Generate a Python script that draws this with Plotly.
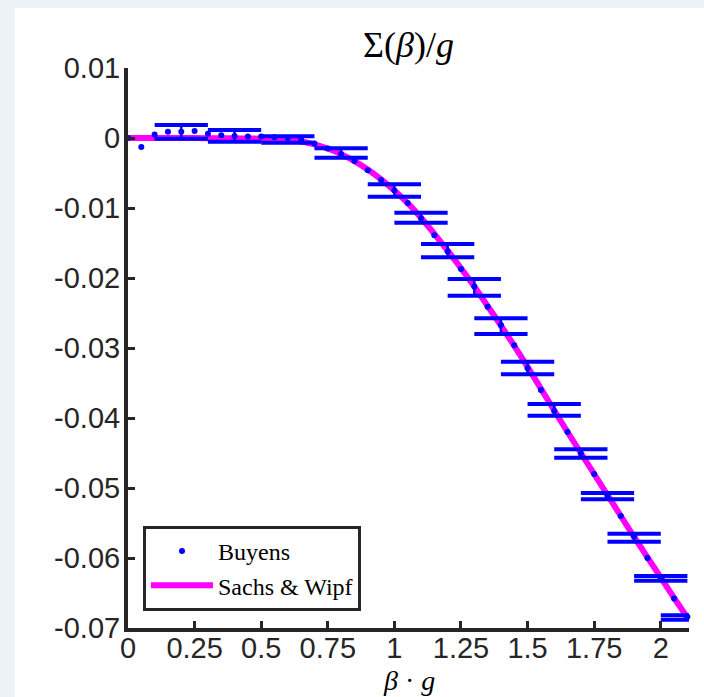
import plotly.graph_objects as go

# ---- data -------------------------------------------------------------
# Buyens: self-energy Sigma(beta)/g sampled every 0.05 in beta*g
buyens_beta = [0.00, 0.05, 0.10, 0.15, 0.20, 0.25, 0.30, 0.35, 0.40, 0.45,
               0.50, 0.55, 0.60, 0.65, 0.70, 0.75, 0.80, 0.85, 0.90, 0.95,
               1.00, 1.05, 1.10, 1.15, 1.20, 1.25, 1.30, 1.35, 1.40, 1.45,
               1.50, 1.55, 1.60, 1.65, 1.70, 1.75, 1.80, 1.85, 1.90, 1.95,
               2.00, 2.05, 2.10]
buyens_sigma = [0.0000, -0.0013, 0.0005, 0.0009, 0.0009, 0.0010, 0.0006, 0.0004,
                0.0003, 0.0002, 0.0002, 0.0001, 0.0000, -0.0002, -0.0008, -0.0015,
                -0.0023, -0.0033, -0.0046, -0.0060, -0.0075, -0.0093, -0.0115,
                -0.0139, -0.0162, -0.0187, -0.0212, -0.0241, -0.0267, -0.0296,
                -0.0329, -0.0360, -0.0390, -0.0420, -0.0451, -0.0480, -0.0511,
                -0.0540, -0.0569, -0.0600, -0.0629, -0.0658, -0.0684]

# Sachs & Wipf: analytic curve
sw_beta = [0.00, 0.10, 0.20, 0.30, 0.40, 0.50, 0.55, 0.60, 0.65, 0.70,
           0.75, 0.80, 0.85, 0.90, 0.95, 1.00, 1.05, 1.10, 1.15, 1.20,
           1.25, 1.30, 1.35, 1.40, 1.45, 1.50, 1.55, 1.60, 1.65, 1.70,
           1.75, 1.80, 1.85, 1.90, 1.95, 2.00, 2.05, 2.10]
sw_sigma = [0.0000, 0.0000, 0.0000, -0.00002, -0.00005, -0.0001, -0.0002,
            -0.0003, -0.0005, -0.0009, -0.0015, -0.0023, -0.0033, -0.0045,
            -0.0059, -0.0075, -0.0093, -0.0114, -0.0137, -0.0161, -0.0186,
            -0.0212, -0.0240, -0.0268, -0.0297, -0.0327, -0.0358, -0.0389,
            -0.0420, -0.0450, -0.0480, -0.0510, -0.0540, -0.0570, -0.0599,
            -0.0628, -0.0657, -0.0685]

# Monte-Carlo bins: centre, mean, error and bin half-width
mc_beta = [0.2, 0.4, 0.6, 0.8, 1.0, 1.1, 1.2, 1.3, 1.4, 1.5, 1.6, 1.7,
           1.8, 1.9, 2.0, 2.1]
mc_mean = [0.00088, 0.00030, -0.00022, -0.00214, -0.00750, -0.01139,
           -0.01609, -0.02134, -0.02688, -0.03286, -0.03884, -0.04507,
           -0.05116, -0.05710, -0.06290, -0.06850]
mc_err = [0.00098, 0.00084, 0.00046, 0.00067, 0.00089, 0.00072, 0.00095,
          0.00120, 0.00112, 0.00090, 0.00084, 0.00060, 0.00045, 0.00057,
          0.00034, 0.00031]
mc_half = 0.1

x_tickvals = [0, 0.25, 0.5, 0.75, 1, 1.25, 1.5, 1.75, 2]
x_ticktext = ["0", "0.25", "0.5", "0.75", "1", "1.25", "1.5", "1.75", "2"]
y_tickvals = [0.01, 0, -0.01, -0.02, -0.03, -0.04, -0.05, -0.06, -0.07]
y_ticktext = ["0.01", "0", "-0.01", "-0.02", "-0.03", "-0.04", "-0.05",
              "-0.06", "-0.07"]

# ---- styling ----------------------------------------------------------
BLUE = "#0000ff"
MAGENTA = "#ff00ff"
INK = "#262626"
SANS = "Liberation Sans, Arial, sans-serif"
SERIF = "Liberation Serif, Times New Roman, serif"

# caps and stems of the binned error bars
cap_x, cap_y, stem_x, stem_y = [], [], [], []
for c, m, e in zip(mc_beta, mc_mean, mc_err):
    cap_x += [c - mc_half, c + mc_half, None, c - mc_half, c + mc_half, None]
    cap_y += [m + e, m + e, None, m - e, m - e, None]
    stem_x += [c, c, None]
    stem_y += [m + e, m - e, None]

fig = go.Figure()
fig.add_trace(go.Scatter(
    x=sw_beta, y=sw_sigma, mode="lines", name="Sachs & Wipf",
    line=dict(color=MAGENTA, width=6, shape="spline"), legendrank=2))
fig.add_trace(go.Scatter(
    x=stem_x, y=stem_y, mode="lines", showlegend=False, hoverinfo="skip",
    line=dict(color=BLUE, width=2.5)))
fig.add_trace(go.Scatter(
    x=cap_x, y=cap_y, mode="lines", showlegend=False, hoverinfo="skip",
    line=dict(color=BLUE, width=4)))
fig.add_trace(go.Scatter(
    x=buyens_beta, y=buyens_sigma, mode="markers", name="Buyens",
    marker=dict(color=BLUE, size=6), cliponaxis=False, legendrank=1))

# page and plot-area geometry (px)
L, R, T, B = 128, 15, 68, 69
W, H = 704, 697
pw, ph = W - L - R, H - T - B
FRAME_LEFT, FRAME_TOP = 15, 8

axis_common = dict(
    showline=True, linecolor=INK, linewidth=4, mirror=False,
    ticks="inside", ticklen=7, tickwidth=3, tickcolor=INK,
    showgrid=False, zeroline=False,
    tickfont=dict(family=SANS, size=29, color=INK),
)

fig.update_layout(
    width=W, height=H, autosize=False,
    margin=dict(l=L, r=R, t=T, b=B),
    paper_bgcolor="#edf2f7", plot_bgcolor="white",
    title=dict(text="Σ(<i>β</i>)/<i>g</i>", x=0.5, xref="paper",
               y=1 - 44 / H, yanchor="middle",
               font=dict(family=SERIF, size=36, color="black")),
    xaxis=dict(range=[0, 2.106], tickvals=x_tickvals, ticktext=x_ticktext,
               ticklabelstandoff=-9, **axis_common),
    yaxis=dict(range=[-0.07, 0.01], tickvals=y_tickvals, ticktext=y_ticktext,
               ticklabelstandoff=-2, **axis_common),
    legend=dict(x=15 / pw, y=17 / ph, xanchor="left", yanchor="bottom",
                bgcolor="white", bordercolor=INK, borderwidth=3,
                font=dict(family=SERIF, size=24, color="black"),
                itemwidth=62, tracegroupgap=0),
    annotations=[dict(text="<i>β</i> · <i>g</i>", xref="paper", yref="paper",
                      x=0.5, y=-(680 - (H - B)) / ph, yanchor="middle",
                      showarrow=False,
                      font=dict(family=SERIF, size=28, color="black"))],
    shapes=[dict(type="rect", xref="paper", yref="paper", layer="below",
                 x0=(FRAME_LEFT - L) / pw, x1=(W - L) / pw,
                 y0=-B / ph, y1=(H - B - FRAME_TOP) / ph,
                 fillcolor="white", line=dict(width=0))],
)

fig.write_html("out.html")
